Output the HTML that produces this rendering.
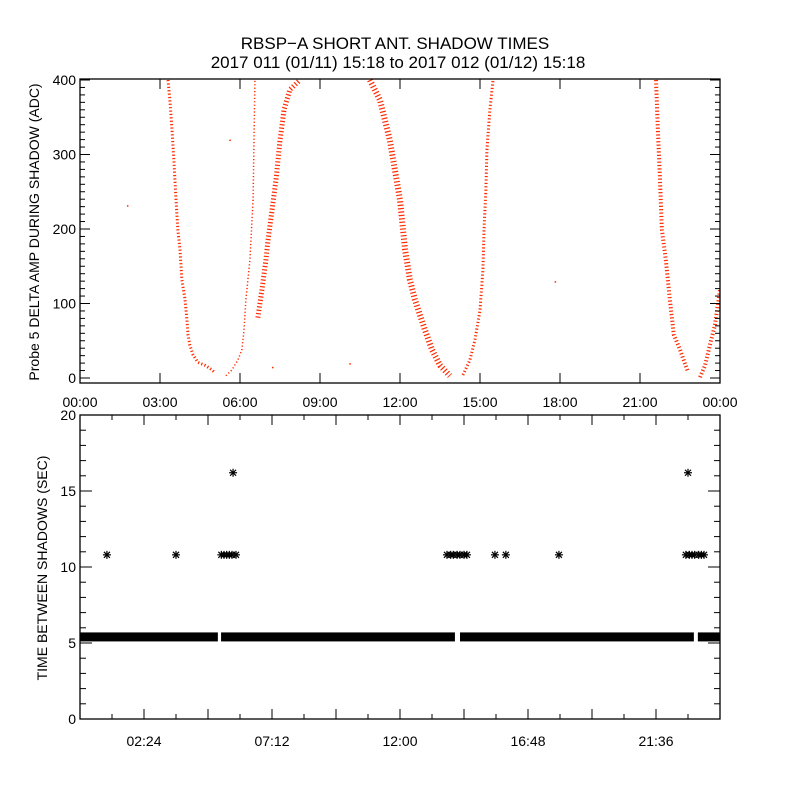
<!DOCTYPE html>
<html><head><meta charset="utf-8"><style>
body{margin:0;background:#fff}
svg{display:block;font-family:"Liberation Sans",sans-serif}
</style></head><body>
<svg id="chart" width="800" height="800" viewBox="0 0 800 800">
<rect width="800" height="800" fill="#fff"/>
<text x="395" y="49" font-size="17" text-anchor="middle">RBSP−A SHORT ANT. SHADOW TIMES</text>
<text x="398" y="68" font-size="17" text-anchor="middle">2017 011 (01/11) 15:18 to 2017 012 (01/12) 15:18</text>
<g id="topPanel"></g>
<g id="botPanel"></g>
<text transform="translate(39,232) rotate(-90)" font-size="14" text-anchor="middle">Probe 5 DELTA AMP DURING SHADOW (ADC)</text>
<text transform="translate(47,568) rotate(-90)" font-size="14" text-anchor="middle">TIME BETWEEN SHADOWS (SEC)</text>
</svg>
<script>
// ---- top panel data (hours, ADC) ----
const branchA = [[3.30,400],[3.37,373],[3.45,333],[3.52,293],[3.60,239],[3.67,199],[3.75,172],[3.82,132],[3.94,105],[4.01,78],[4.05,58],[4.12,44],[4.24,31],[4.42,21],[4.69,17],[4.95,11],[5.06,7]];
const branchB = [[5.47,3],[5.70,11],[5.92,24],[6.07,38],[6.15,64],[6.22,105],[6.37,158],[6.49,239],[6.52,306],[6.56,400]];
const branchC = [[6.67,81],[6.82,118],[6.97,158],[7.05,185],[7.20,225],[7.35,266],[7.50,319],[7.65,360],[7.87,387],[8.25,400]];
const branchD = [[10.87,400],[11.25,373],[11.62,319],[12.0,239],[12.19,172],[12.37,132],[12.56,105],[12.94,64],[13.2,38],[13.5,17],[13.87,3]];
const branchE = [[14.36,4],[14.62,24],[14.81,51],[15.0,91],[15.11,145],[15.15,199],[15.22,252],[15.26,306],[15.37,360],[15.49,400]];
const branchF = [[21.6,400],[21.67,333],[21.75,266],[21.82,199],[21.97,158],[22.12,105],[22.27,58],[22.5,38],[22.8,8]];
const branchG = [[23.25,1],[23.44,17],[23.62,44],[23.81,71],[24.0,118]];
const strayPts = [[1.76,232],[7.2,15],[10.1,20],[17.8,130],[5.6,320]];
const topXTicks = ["00:00","03:00","06:00","09:00","12:00","15:00","18:00","21:00","00:00"];
const topYTicks = [0,100,200,300,400];
// ---- bottom panel data ----
const bandSegs = [[0.0,5.17],[5.29,14.06],[14.25,23.02],[23.17,24.0]];
const bandValue = 5.4;
const starHours = [1.01,3.6,5.3,5.4,5.5,5.6,5.7,5.85,13.76,13.9,14.0,14.14,14.25,14.4,14.51,15.56,15.97,17.96,22.72,22.85,22.95,23.05,23.2,23.3,23.4,5.74,22.8];
const starVals  = [10.8,10.8,10.8,10.8,10.8,10.8,10.8,10.8,10.8,10.8,10.8,10.8,10.8,10.8,10.8,10.8,10.8,10.8,10.8,10.8,10.8,10.8,10.8,10.8,10.8,16.2,16.2];
const botXLabels = ["02:24","07:12","12:00","16:48","21:36"];
const botXLabelHours = [2.4,7.2,12.0,16.8,21.6];
const botYTicks = [0,5,10,15,20];

const NS="http://www.w3.org/2000/svg";
function mk(tag,attrs,parent){const e=document.createElementNS(NS,tag);for(const k in attrs)e.setAttribute(k,attrs[k]);parent.appendChild(e);return e;}
const L=80,R=720;
const tx=h=>L+h*(R-L)/24;
// top
const TT=79,TB=383;
const ty=v=>378-v*0.745;
const topG=document.getElementById('topPanel');
const clipEl=mk('clipPath',{id:'tc'},topG);mk('rect',{x:L,y:TT,width:R-L,height:TB-TT},clipEl);
const gData=mk('g',{'clip-path':'url(#tc)'},topG);
const branches=[[branchA,3],[branchB,1.5],[branchC,5],[branchD,6],[branchE,3],[branchF,4],[branchG,4]];
branches.forEach((b,i)=>{
  const p=mk('polyline',{points:b[0].map(d=>tx(d[0])+','+ty(d[1])).join(' '),fill:'none',stroke:'#ff2a00','stroke-width':b[1],'stroke-dasharray':'1.2 2.2','stroke-linejoin':'round'},gData);
  
  
});
strayPts.forEach(d=>{const r=mk('rect',{x:tx(d[0]),y:ty(d[1]),width:1.5,height:1.5,fill:'#ff2a00'},gData);
  
  });
mk('rect',{x:L,y:TT,width:R-L,height:TB-TT,fill:'none',stroke:'#000','stroke-width':1.3},topG);
for(let i=0;i<=8;i++){const x=tx(i*3);
  mk('line',{x1:x,x2:x,y1:TB,y2:TB-10,stroke:'#000'},topG);mk('line',{x1:x,x2:x,y1:TT,y2:TT+10,stroke:'#000'},topG);
  const t=mk('text',{x:x,y:TB+24,'font-size':14,'text-anchor':'middle'},topG);t.textContent=topXTicks[i];
  
  }
for(let v=0;v<=400;v+=10){const y=ty(v);const len=v%100===0?10:5;
  mk('line',{x1:L,x2:L+len,y1:y,y2:y,stroke:'#000'},topG);mk('line',{x1:R,x2:R-len,y1:y,y2:y,stroke:'#000'},topG);}
topYTicks.forEach(v=>{const t=mk('text',{x:L-4,y:ty(v)+5,'font-size':14,'text-anchor':'end'},topG);t.textContent=v;
  
  });
// bottom
const BT=415,BB=719;
const by=v=>BB-v*(BB-BT)/20;
const botG=document.getElementById('botPanel');
bandSegs.forEach(s=>{const r=mk('rect',{x:tx(s[0]),y:by(bandValue)-4.5,width:tx(s[1])-tx(s[0]),height:9,fill:'#000'},botG);
  
  });
starHours.forEach((h,i)=>{const x=tx(h),y=by(starVals[i]);
  const g=mk('g',{stroke:'#000','stroke-width':1.2},botG);
  
  
  mk('line',{x1:x-4,x2:x+4,y1:y,y2:y},g);mk('line',{x1:x,x2:x,y1:y-4,y2:y+4},g);
  mk('line',{x1:x-3,x2:x+3,y1:y-3,y2:y+3},g);mk('line',{x1:x-3,x2:x+3,y1:y+3,y2:y-3},g);});
mk('rect',{x:L,y:BT,width:R-L,height:BB-BT,fill:'none',stroke:'#000','stroke-width':1.3},botG);
for(let i=1;i<20;i++){const x=tx(i*1.2);const len=i%2===0?10:5;
  mk('line',{x1:x,x2:x,y1:BB,y2:BB-len,stroke:'#000'},botG);mk('line',{x1:x,x2:x,y1:BT,y2:BT+len,stroke:'#000'},botG);}
botXLabels.forEach((s,i)=>{const t=mk('text',{x:tx(botXLabelHours[i]),y:BB+27,'font-size':14,'text-anchor':'middle'},botG);t.textContent=s;
  
  });
for(let v=1;v<20;v++){const y=by(v);const len=v%5===0?12:6;
  mk('line',{x1:L,x2:L+len,y1:y,y2:y,stroke:'#000'},botG);mk('line',{x1:R,x2:R-len,y1:y,y2:y,stroke:'#000'},botG);}
botYTicks.forEach(v=>{const t=mk('text',{x:L-4,y:by(v)+5,'font-size':14,'text-anchor':'end'},botG);t.textContent=v;
  
  });
</script>
</body></html>
